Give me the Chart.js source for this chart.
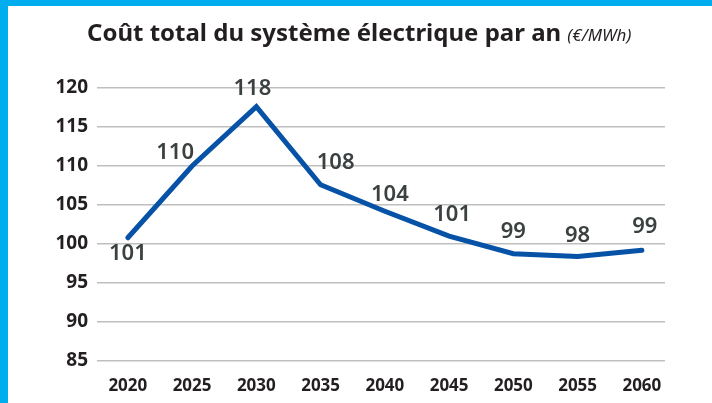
<!DOCTYPE html>
<html>
<head>
<meta charset="utf-8">
<script src="https://cdn.jsdelivr.net/npm/chart.js@4"></script>
<style>
  html, body { margin: 0; padding: 0; background: #fff; }
  #wrap { position: relative; width: 712px; height: 403px; overflow: hidden; }
  #topbar { position: absolute; left: 0; top: 0; width: 712px; height: 6px; background: #00aeef; }
  #leftbar { position: absolute; left: 0; top: 0; width: 8px; height: 403px; background: #00aeef; }
  #title { position: absolute; left: 87px; top: 15px; font-family: "Noto Sans", sans-serif; font-weight: bold; font-size: 24px; color: #231f20; white-space: nowrap; }
  #title span { font-style: italic; font-weight: normal; font-size: 17px; }
  canvas { position: absolute; left: 0; top: 0; }
</style>
</head>
<body>
<div id="wrap">
  <canvas id="chart" width="712" height="403"></canvas>
  <div id="topbar"></div>
  <div id="leftbar"></div>
  <div id="title">Coût total du système électrique par an <span>(€/MWh)</span></div>
</div>
<script>
// années et coût (€/MWh)
var years = [2020, 2025, 2030, 2035, 2040, 2045, 2050, 2055, 2060];
var cost = [100.8, 110.0, 117.6, 107.6, 104.2, 101.0, 98.75, 98.4, 99.2];
var yTicks = [85, 90, 95, 100, 105, 110, 115, 120];

// décalage des étiquettes par rapport au point (px)
var labelOffsets = [[0, 16], [-17, -13], [-4, -18], [15, -22], [5, -17], [3, -21], [0, -22], [0, -21], [3, -24]];

var pointLabels = {
    id: 'pointLabels',
    afterDatasetsDraw: function (chart) {
        var ctx = chart.ctx;
        var meta = chart.getDatasetMeta(0);
        ctx.save();
        ctx.font = '600 22px "Noto Sans"';
        ctx.fillStyle = '#3b4040';
        ctx.textAlign = 'center';
        ctx.textBaseline = 'middle';
        meta.data.forEach(function (pt, i) {
            var off = labelOffsets[i];
            ctx.fillText(Math.round(cost[i]), pt.x + off[0], pt.y + off[1]);
        });
        ctx.restore();
    }
};

var ctx = document.getElementById('chart');
var chart = new Chart(ctx, {
    type: 'line',
    data: {
        datasets: [
            {
                data: years.map(function (y, i) { return { x: y, y: cost[i] }; }),
                borderColor: '#0652a6',
                borderWidth: 5,
                borderCapStyle: 'round',
                borderJoinStyle: 'miter',
                pointRadius: 0,
                tension: 0,
                fill: false
            }
        ]
    },
    options: {
        responsive: false,
        animation: false,
        layout: { padding: { top: 88, right: 47, bottom: 0, left: 0 } },
        plugins: {
            legend: { display: false },
            tooltip: { enabled: false }
        },
        scales: {
            x: {
                type: 'linear',
                min: 2017.6,
                max: 2061.8,
                afterBuildTicks: function (scale) {
                    scale.ticks = years.map(function (v) { return { value: v }; });
                },
                afterFit: function (scale) { scale.height = 42; },
                grid: { display: false },
                border: { display: false },
                ticks: {
                    padding: 7,
                    color: '#231f20',
                    font: { family: 'Noto Sans', size: 17, weight: 'bold' },
                    callback: function (v) { return String(v); },
                    maxRotation: 0,
                    autoSkip: false
                }
            },
            y: {
                min: 85,
                max: 120,
                afterBuildTicks: function (scale) {
                    scale.ticks = yTicks.map(function (v) { return { value: v }; });
                },
                afterFit: function (scale) { scale.width = 97; },
                grid: { color: '#bfbfbf', lineWidth: 1.5, drawTicks: false },
                border: { display: false },
                ticks: {
                    padding: 9,
                    color: '#231f20',
                    font: { family: 'Noto Sans', size: 19, weight: 'bold' }
                }
            }
        }
    },
    plugins: [pointLabels]
});
</script>
</body>
</html>
